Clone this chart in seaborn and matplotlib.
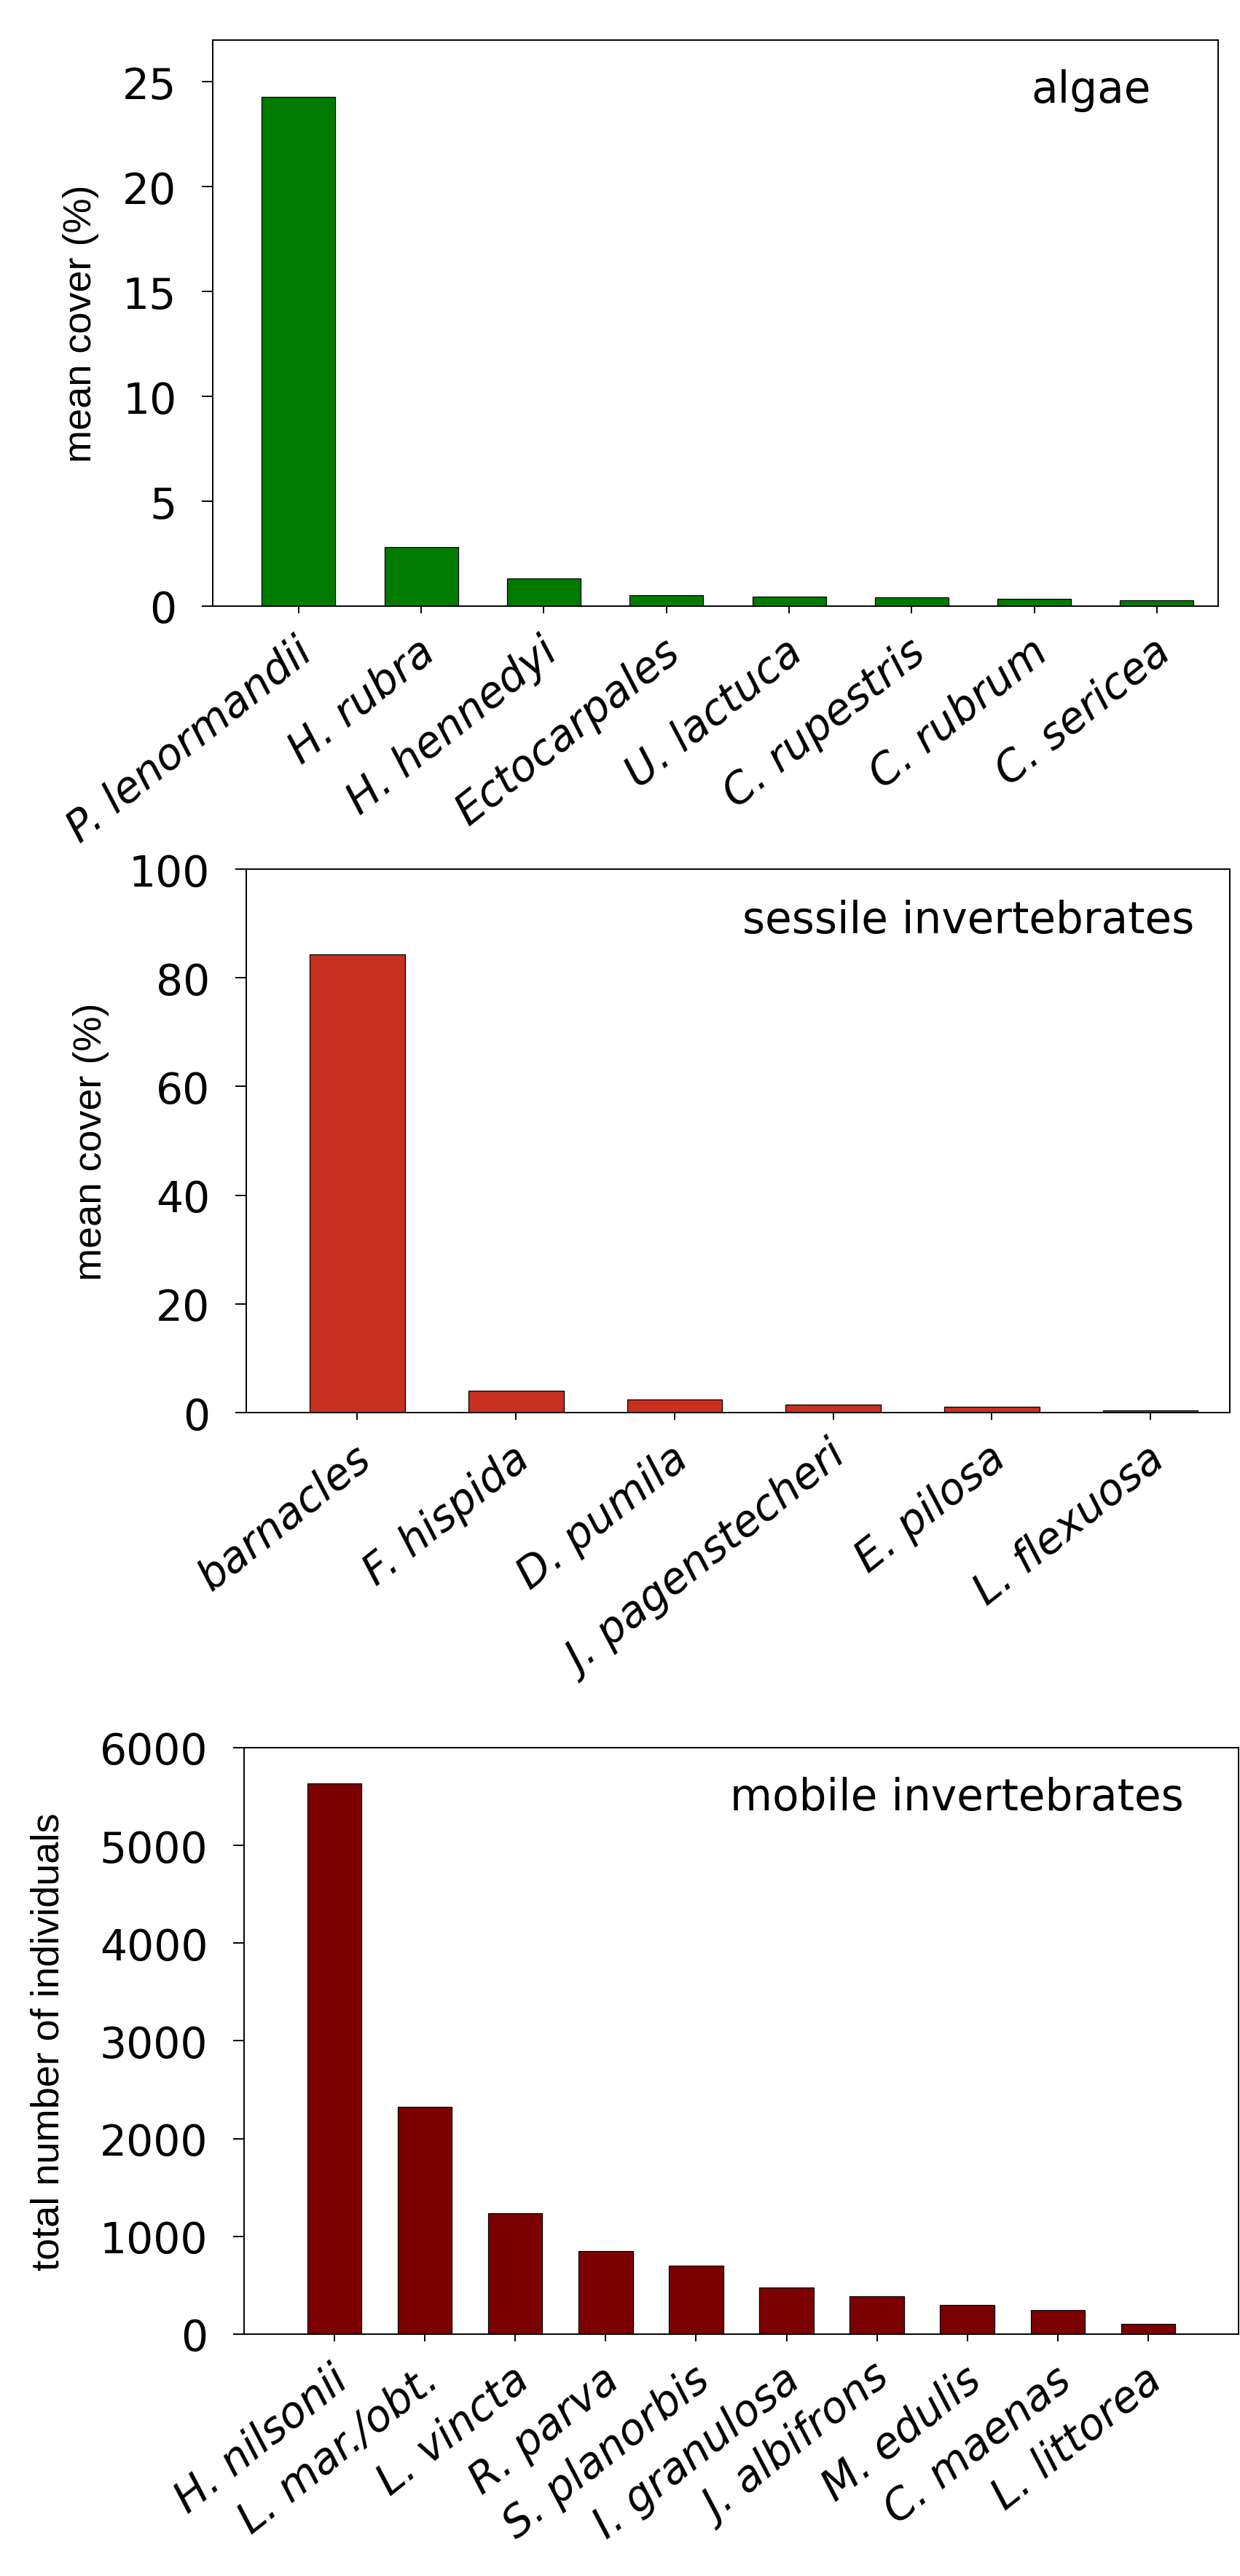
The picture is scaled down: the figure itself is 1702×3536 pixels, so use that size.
import matplotlib
matplotlib.use("Agg")
import seaborn as sns
import pandas as pd
from matplotlib import pyplot as plt
from matplotlib.transforms import ScaledTranslation

# Algae: mean cover (%)
algae_names = ["P. lenormandii", "H. rubra", "H. hennedyi", "Ectocarpales",
               "U. lactuca", "C. rupestris", "C. rubrum", "C. sericea"]
algae_cover = [24.27, 2.82, 1.33, 0.51, 0.46, 0.41, 0.36, 0.28]

# Sessile invertebrates: mean cover (%)
sessile_names = ["barnacles", "F. hispida", "D. pumila", "J. pagenstecheri",
                 "E. pilosa", "L. flexuosa"]
sessile_cover = [84.3, 4.0, 2.47, 1.54, 1.03, 0.36]

# Mobile invertebrates: total number of individuals
mobile_names = ["H. nilsonii", "L. mar./obt.", "L. vincta", "R. parva", "S. planorbis",
                "I. granulosa", "J. albifrons", "M. edulis", "C. maenas", "L. littorea"]
mobile_count = [5630, 2325, 1233, 846, 699, 476, 390, 300, 245, 105]

sns.set_style("ticks")
plt.rcParams["font.family"] = ["DejaVu Sans"]
plt.rcParams["text.color"] = "black"
plt.rcParams["axes.labelcolor"] = "black"
plt.rcParams["xtick.color"] = "black"
plt.rcParams["ytick.color"] = "black"
plt.rcParams["axes.edgecolor"] = "black"

fig = plt.figure(figsize=(17.02, 35.37), dpi=100)

# one entry per panel: axes rect, data, colour, limits, ticks, labels
panels = [
    dict(rect=[0.1716, 0.7645, 0.8108, 0.2197], names=algae_names, values=algae_cover,
         color="#007b00", ylim=(0, 27), yticks=range(0, 26, 5), xlim=(-0.7, 7.5),
         ylabel="mean cover (%)", label_x=-0.113, title="algae", title_xy=(0.933, 0.89)),
    dict(rect=[0.1986, 0.4515, 0.7932, 0.2109], names=sessile_names, values=sessile_cover,
         color="#c83020", ylim=(0, 100), yticks=range(0, 101, 20), xlim=(-0.7, 5.5),
         ylabel="mean cover (%)", label_x=-0.139, title="sessile invertebrates",
         title_xy=(0.964, 0.883)),
    dict(rect=[0.1968, 0.0939, 0.8020, 0.2276], names=mobile_names, values=mobile_count,
         color="#7b0000", ylim=(0, 6000), yticks=range(0, 6001, 1000), xlim=(-1.0, 10.0),
         ylabel="total number of individuals", label_x=-0.178, title="mobile invertebrates",
         title_xy=(0.945, 0.894)),
]

# nudge the slanted names a little to the right of their ticks
label_shift = ScaledTranslation(0.22, 0, fig.dpi_scale_trans)

for p in panels:
    ax = fig.add_axes(p["rect"])
    df = pd.DataFrame({"taxon": p["names"], "value": p["values"]})
    sns.barplot(data=df, x="taxon", y="value", color=p["color"], saturation=1,
                width=0.6, edgecolor="black", linewidth=0.9, errorbar=None, ax=ax)

    ax.set_xlim(*p["xlim"])
    ax.set_ylim(*p["ylim"])
    ax.set_yticks(list(p["yticks"]))
    ax.set_xticks(range(len(p["names"])))
    ax.set_xticklabels(p["names"], rotation=38.5, ha="right", va="baseline",
                       rotation_mode="anchor", fontstyle="italic", fontsize=42)

    for side in ["top", "right", "bottom", "left"]:
        ax.spines[side].set_visible(True)
        ax.spines[side].set_linewidth(1.4)
        ax.spines[side].set_color("black")

    ax.tick_params(axis="y", direction="out", length=10.8, width=1.4, pad=25, labelsize=42)
    ax.tick_params(axis="x", direction="out", length=7.2, width=1.4, pad=42)

    for lab in ax.get_xticklabels():
        lab.set_transform(lab.get_transform() + label_shift)

    ax.set_xlabel("")
    ax.set_ylabel(p["ylabel"], fontsize=39, family="Liberation Sans")
    ax.yaxis.set_label_coords(p["label_x"], 0.5)

    ax.text(p["title_xy"][0], p["title_xy"][1], p["title"], transform=ax.transAxes,
            ha="right", va="baseline", fontsize=43)

fig.savefig("out.png", dpi=100, facecolor="white")
